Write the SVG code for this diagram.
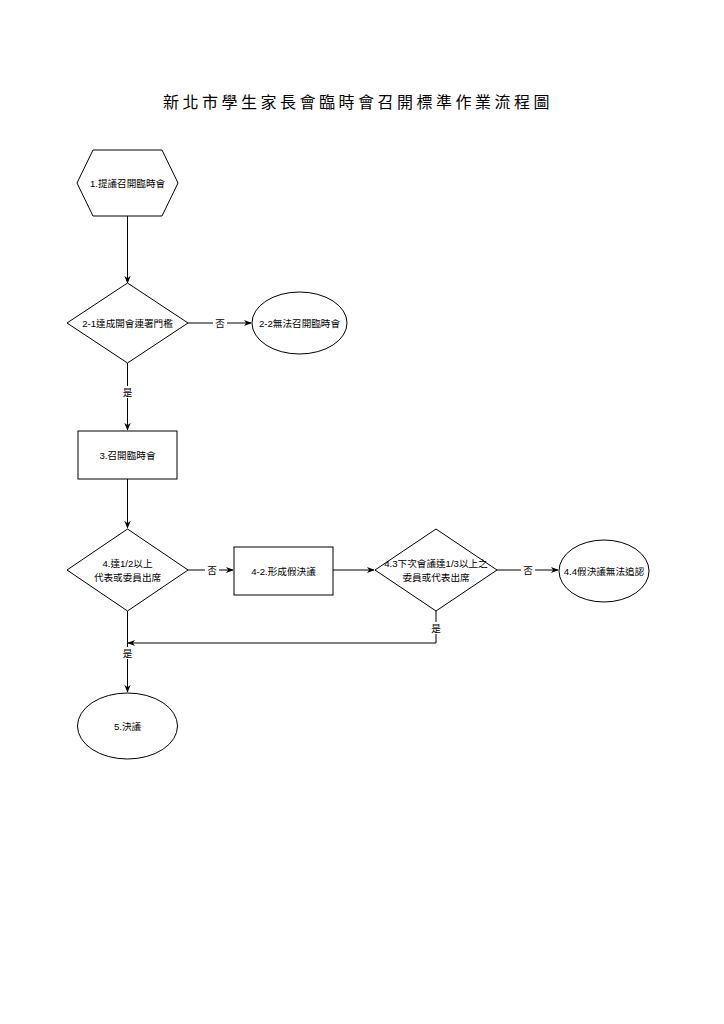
<svg xmlns="http://www.w3.org/2000/svg" width="724" height="1024" viewBox="0 0 724 1024">
<style>
.t{font-family:"Liberation Sans","Noto Sans CJK TC",sans-serif;font-size:9.6px;fill:#000;text-anchor:middle;dominant-baseline:central}
.title{font-family:"Noto Sans CJK TC",sans-serif;font-size:16px;fill:#000;text-anchor:middle;letter-spacing:3.5px}
.s{fill:#fff;stroke:#000;stroke-width:1}
.c{fill:none;stroke:#000;stroke-width:1}
.lb{fill:#fff}
</style>
<defs>
<marker id="a" viewBox="0 0 10 10" refX="9" refY="5" markerWidth="8" markerHeight="8" markerUnits="userSpaceOnUse" orient="auto">
<path d="M0,1 L10,5 L0,9 L3,5 Z" fill="#000"/>
</marker>
</defs>
<rect width="724" height="1024" fill="#fff"/>
<text class="title" x="358" y="108">新北市學生家長會臨時會召開標準作業流程圖</text>
<g id="connectors">
<path class="c" d="M127.5,216 V283" marker-end="url(#a)"/>
<path class="c" d="M188,323 H251" marker-end="url(#a)"/>
<rect class="lb" x="213" y="317" width="14" height="12"/>
<text class="t" x="220" y="323">否</text>
<path class="c" d="M127.5,363 V430" marker-end="url(#a)"/>
<rect class="lb" x="120" y="386" width="14" height="12"/>
<text class="t" x="127.5" y="392">是</text>
<path class="c" d="M127.5,479 V528" marker-end="url(#a)"/>
<path class="c" d="M188,570 H233" marker-end="url(#a)"/>
<rect class="lb" x="205" y="564" width="14" height="12"/>
<text class="t" x="212" y="570">否</text>
<path class="c" d="M333,570 H374" marker-end="url(#a)"/>
<path class="c" d="M497,570 H558" marker-end="url(#a)"/>
<rect class="lb" x="521" y="564" width="14" height="12"/>
<text class="t" x="528" y="570">否</text>
<path class="c" d="M436,611 V643 H128" marker-end="url(#a)"/>
<rect class="lb" x="429" y="622" width="14" height="12"/>
<text class="t" x="436" y="628">是</text>
<path class="c" d="M127.5,611 V692" marker-end="url(#a)"/>
<rect class="lb" x="120" y="647" width="14" height="12"/>
<text class="t" x="127.5" y="653">是</text>
</g>
<g id="n1">
<polygon class="s" points="77,183 93,150 162,150 178,183 162,216 93,216"/>
<text class="t" x="127.5" y="183">1.提議召開臨時會</text>
</g>
<g id="n2-1">
<polygon class="s" points="127.5,283 188,323 127.5,363 67,323"/>
<text class="t" x="127.5" y="323">2-1達成開會連署門檻</text>
</g>
<g id="n2-2">
<ellipse class="s" cx="299.5" cy="323" rx="47.5" ry="31"/>
<text class="t" x="299.5" y="323">2-2無法召開臨時會</text>
</g>
<g id="n3">
<rect class="s" x="78" y="431" width="99" height="48"/>
<text class="t" x="127.5" y="455">3.召開臨時會</text>
</g>
<g id="n4">
<polygon class="s" points="127.5,529 188,570 127.5,611 67,570"/>
<text class="t" x="127.5" y="563">4.達1/2以上</text>
<text class="t" x="127.5" y="577">代表或委員出席</text>
</g>
<g id="n4-2">
<rect class="s" x="234" y="547" width="99" height="48"/>
<text class="t" x="283.5" y="571">4-2.形成假決議</text>
</g>
<g id="n4-3">
<polygon class="s" points="436,529 497,570 436,611 375,570"/>
<text class="t" x="436" y="563">4.3下次會議達1/3以上之</text>
<text class="t" x="436" y="577">委員或代表出席</text>
</g>
<g id="n4-4">
<ellipse class="s" cx="604" cy="571" rx="45" ry="31"/>
<text class="t" x="604" y="571">4.4假決議無法追認</text>
</g>
<g id="n5">
<ellipse class="s" cx="127.5" cy="726" rx="50" ry="33"/>
<text class="t" x="127.5" y="726">5.決議</text>
</g>
</svg>
